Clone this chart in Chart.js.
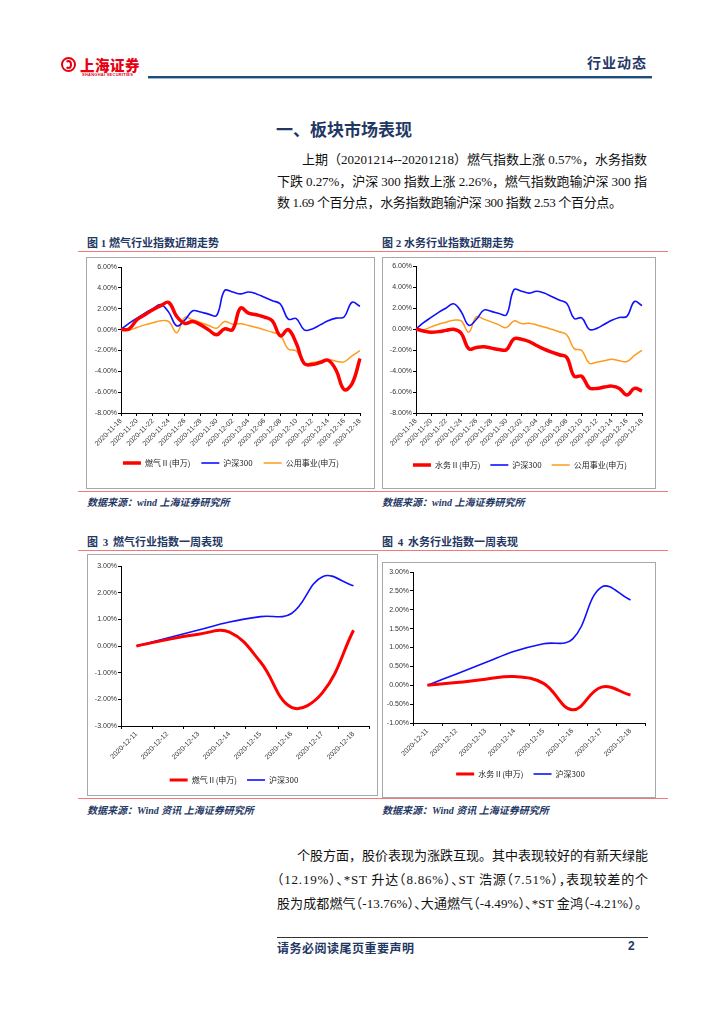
<!DOCTYPE html>
<html>
<head>
<meta charset="utf-8">
<script src="https://cdn.jsdelivr.net/npm/chart.js@4.4.1/dist/chart.umd.min.js"></script>
<style>
body { margin: 0; background: #fff; }
#page { position: relative; width: 724px; height: 1024px; overflow: hidden; background: #fff;
        font-family: "Liberation Serif", "Noto Sans CJK SC", serif; color: #000; }
.abs { position: absolute; white-space: nowrap; }
.navy { color: #1f3864; }
.hd { font-family: "Noto Sans CJK SC", sans-serif; font-weight: 700; }
.cap { font-family: "Liberation Serif", "Noto Sans CJK SC", serif; font-weight: 700; font-size: 11px; color: #1f3864; }
.src { font-family: "Liberation Serif", "Noto Sans CJK SC", serif; font-weight: 700; font-style: italic; font-size: 10px; color: #1f3864; }
.redline { position: absolute; left: 78px; width: 590px; height: 0; border-top: 1px solid #f07a7a; }
.frame { position: absolute; border: 1px solid #a8a8a8; box-sizing: border-box; }
.line { position: absolute; white-space: nowrap; font-size: 13px; line-height: 16px; color: #111; }
.h { font-feature-settings: "halt"; }
canvas { position: absolute; }
</style>
</head>
<body>
<div id="page">
  <!-- header -->
  <div class="abs" style="left:61px;top:57px;width:15px;height:15px;border-radius:50%;border:2px solid #e60012;box-sizing:border-box;"></div>
  <div class="abs" style="left:65px;top:60px;width:7px;height:9px;border-radius:50%;border:2px solid #e60012;border-left-color:transparent;box-sizing:border-box;"></div>
  <div class="abs hd" style="left:80px;top:54px;font-size:14.5px;color:#e60012;letter-spacing:0.5px;font-weight:900;">上海证券</div>
  <div class="abs" style="left:82px;top:72px;font-family:'Liberation Sans';font-size:8px;font-weight:700;color:#e60012;transform:scale(0.5);transform-origin:0 0;letter-spacing:0.5px;">SHANGHAI SECURITIES</div>
  <div class="abs hd navy" style="left:587px;top:52px;font-size:14px;letter-spacing:1px;">行业动态</div>
  <div class="abs" style="left:148px;top:76px;width:504px;height:2px;background:#1f4e79;"></div>
  <div class="abs" style="left:148px;top:78px;width:504px;height:1px;background:#9db3cf;"></div>

  <!-- section title -->
  <div class="abs hd navy" style="left:276px;top:116px;font-size:17px;">一、板块市场表现</div>
  <div class="line" data-w="345" style="left:302px;top:152px;">上期（20201214--20201218）燃气指数上涨 0.57%，水务指数</div>
  <div class="line" data-w="370" style="left:277px;top:174px;">下跌 0.27%，沪深 300 指数上涨 2.26%，燃气指数跑输沪深 300 指</div>
  <div class="line" data-w="345" style="left:277px;top:195px;">数 1.69 个百分点，水务指数跑输沪深 300 指数 2.53 个百分点。</div>

  <!-- figure 1/2 -->
  <div class="abs cap" style="left:87px;top:234px;">图 1 燃气行业指数近期走势</div>
  <div class="abs cap" style="left:382px;top:234px;">图 2 水务行业指数近期走势</div>
  <div class="redline" style="top:251px;"></div>
  <div class="frame" style="left:86px;top:257px;width:289px;height:232px;"></div>
  <div class="frame" style="left:382px;top:257px;width:274px;height:232px;"></div>
  <canvas id="c1" width="286" height="231" style="left:88px;top:257px;"></canvas>
  <canvas id="c2" width="270" height="231" style="left:385px;top:257px;"></canvas>
  <div class="redline" style="top:491px;"></div>
  <div class="abs src" style="left:87px;top:494px;">数据来源：wind 上海证券研究所</div>
  <div class="abs src" style="left:382px;top:494px;">数据来源：wind 上海证券研究所</div>

  <!-- figure 3/4 -->
  <div class="abs cap" style="left:87px;top:533px;word-spacing:2px;">图 3 燃气行业指数一周表现</div>
  <div class="abs cap" style="left:382px;top:533px;word-spacing:2px;">图 4 水务行业指数一周表现</div>
  <div class="redline" style="top:550px;"></div>
  <div class="frame" style="left:87px;top:554px;width:291px;height:242px;"></div>
  <div class="frame" style="left:382px;top:562px;width:274px;height:236px;"></div>
  <canvas id="c3" width="288" height="241" style="left:90px;top:554px;"></canvas>
  <canvas id="c4" width="273" height="235" style="left:384px;top:562px;"></canvas>
  <div class="redline" style="top:798px;"></div>
  <div class="abs src" style="left:87px;top:802px;">数据来源：Wind 资讯 上海证券研究所</div>
  <div class="abs src" style="left:382px;top:802px;">数据来源：Wind 资讯 上海证券研究所</div>

  <!-- body text -->
  <div class="line" data-w="351" style="left:297px;top:848px;">个股方面，股价表现为涨跌互现。其中表现较好的有新天绿能</div>
  <div class="line" data-w="371" style="left:277px;top:872px;"><span class="h">（</span>12.19%<span class="h">）、</span>*ST 升达<span class="h">（</span>8.86%<span class="h">）、</span>ST 浩源<span class="h">（</span>7.51%<span class="h">），</span>表现较差的个</div>
  <div class="line" data-w="371" style="left:277px;top:896px;">股为成都燃气<span class="h">（</span>-13.76%<span class="h">）、</span>大通燃气<span class="h">（</span>-4.49%<span class="h">）、</span>*ST 金鸿<span class="h">（</span>-4.21%<span class="h">）</span>。</div>

  <!-- footer -->
  <div class="abs" style="left:277px;top:937px;width:371px;height:1px;background:#333;"></div>
  <div class="abs hd navy" style="left:277px;top:939px;font-size:12px;letter-spacing:0.5px;">请务必阅读尾页重要声明</div>
  <div class="abs hd navy" style="left:628px;top:939px;font-size:12px;font-family:'Liberation Sans';">2</div>
</div>

<script>
// 近一个月（日度）
const monthDates = ['2020-11-18','2020-11-19','2020-11-20','2020-11-21','2020-11-22','2020-11-23','2020-11-24',
  '2020-11-25','2020-11-26','2020-11-27','2020-11-28','2020-11-29','2020-11-30','2020-12-01','2020-12-02',
  '2020-12-03','2020-12-04','2020-12-05','2020-12-06','2020-12-07','2020-12-08','2020-12-09','2020-12-10',
  '2020-12-11','2020-12-12','2020-12-13','2020-12-14','2020-12-15','2020-12-16','2020-12-17','2020-12-18'];

const gasMonth   = [0.00, 0.06, 0.94, 1.42, 1.90, 2.30, 2.60, 1.26, 0.60, 0.77, 0.45, -0.03, -0.50, 0.06, 0.00,
  2.06, 1.58, 1.42, 1.20, 0.84, -0.60, 0.00, -1.32, -3.26, -3.35, -3.16, -2.94, -3.90, -5.75, -5.19, -2.77];
const waterMonth = [0.00, -0.19, -0.31, -0.25, -0.13, -0.03, -0.40, -1.89, -1.76, -1.70, -1.82, -1.95, -1.98, -0.94, -0.97,
  -1.19, -1.57, -1.92, -2.20, -2.45, -2.70, -4.50, -4.50, -5.60, -5.66, -5.53, -5.44, -5.66, -6.29, -5.66, -5.90];
const hs300Month = [0.00, 0.60, 1.10, 1.58, 2.00, 2.40, 1.65, 0.35, 0.90, 1.80, 1.68, 1.48, 1.35, 3.74, 3.60,
  3.42, 3.60, 3.42, 3.10, 2.77, 2.45, 1.00, 1.05, -0.03, 0.06, 0.45, 0.84, 1.10, 1.20, 2.62, 2.23];
const utilMonth  = [0.00, -0.06, 0.20, 0.45, 0.65, 0.84, 0.77, -0.30, 1.16, 0.94, 0.68, 0.39, 0.13, 0.77, 0.52,
  0.55, 0.39, 0.19, -0.03, -0.26, -0.55, -1.87, -2.05, -3.26, -3.16, -3.03, -2.87, -3.03, -3.10, -2.52, -2.03];

// 一周
const weekDates = ['2020-12-11','2020-12-12','2020-12-13','2020-12-14','2020-12-15','2020-12-16','2020-12-17','2020-12-18'];
const gasWeek   = [0.00, 0.24, 0.44, 0.52, -0.60, -2.30, -1.75, 0.59];
const waterWeek = [0.00, 0.07, 0.16, 0.23, 0.05, -0.65, -0.05, -0.26];
const hs300Week = [0.00, 0.30, 0.60, 0.90, 1.10, 1.22, 2.60, 2.26];

const names = { gas: '燃气Ⅱ(申万)', water: '水务Ⅱ(申万)', hs300: '沪深300', util: '公用事业(申万)' };

const RED = '#ff0000', BLUE = '#1010ff', ORANGE = '#ff9a1a';
const tickFont = { family: 'Liberation Sans', size: 7 };

// 文字两端对齐
function justify() {
  document.querySelectorAll('.line').forEach(el => {
    el.style.letterSpacing = '0px';
    const n = el.textContent.length;
    const w = el.getBoundingClientRect().width;
    el.style.letterSpacing = ((+el.dataset.w - w) / (n - 1)) + 'px';
  });
}
justify();
if (document.fonts) document.fonts.ready.then(justify);

function ds(label, data, color, width) {
  return { label: label, data: data, borderColor: color, backgroundColor: color,
           borderWidth: width, pointRadius: 0, tension: 0.4, fill: false };
}

function draw(id, labels, datasets, o) {
  new Chart(document.getElementById(id), {
    type: 'line',
    data: { labels: labels, datasets: datasets },
    options: {
      responsive: false,
      animation: false,
      layout: { padding: { left: 0, right: 0, top: o.top, bottom: o.bottom } },
      plugins: {
        tooltip: { enabled: false },
        legend: {
          position: 'bottom',
          labels: {
            usePointStyle: true, pointStyle: 'line', pointStyleWidth: 18,
            padding: o.legendPad, color: '#222',
            font: { family: 'Noto Sans CJK SC', size: 8 }
          }
        }
      },
      scales: {
        x: {
          offset: o.offset,
          border: { display: true, color: '#000', width: 1 },
          grid: { display: true, drawOnChartArea: false, drawTicks: true, tickLength: 3, offset: o.offset,
                  color: ctx => (o.every && ctx.index % o.every) ? 'rgba(0,0,0,0)' : '#000' },
          ticks: {
            autoSkip: false, maxRotation: 45, minRotation: 45, padding: 1, color: '#333', font: tickFont,
            callback: function (v, i) { return (o.every && i % o.every) ? '' : labels[i]; }
          },
          afterFit: s => { s.height = o.xh; }
        },
        y: {
          min: o.min, max: o.max,
          border: { display: true, color: '#000', width: 1 },
          grid: { display: true, drawOnChartArea: false, drawTicks: true, tickLength: 3, color: '#000' },
          ticks: { stepSize: o.step, padding: 1, color: '#333', font: tickFont,
                   callback: v => v.toFixed(2) + '%' },
          afterFit: s => { s.width = o.yw; }
        },
        // 右侧留白（不显示）
        blank: {
          position: 'right', display: true, min: 0, max: 1,
          border: { display: false }, grid: { display: false }, ticks: { display: false },
          afterFit: s => { s.width = o.rw; }
        }
      }
    }
  });
}

draw('c1', monthDates, [
  ds(names.gas, gasMonth, RED, 3.5),
  ds(names.hs300, hs300Month, BLUE, 1.6),
  ds(names.util, utilMonth, ORANGE, 1.5)
], { min: -8, max: 6, step: 2, yw: 33, rw: 14, top: 10, bottom: 11, xh: 35, legendPad: 11, offset: false, every: 2 });

draw('c2', monthDates, [
  ds(names.water, waterMonth, RED, 3.5),
  ds(names.hs300, hs300Month, BLUE, 1.6),
  ds(names.util, utilMonth, ORANGE, 1.5)
], { min: -8, max: 6, step: 2, yw: 31, rw: 13, top: 9, bottom: 9, xh: 38, legendPad: 10, offset: false, every: 2 });

draw('c3', weekDates, [
  ds(names.gas, gasWeek, RED, 3),
  ds(names.hs300, hs300Week, BLUE, 1.6)
], { min: -3, max: 3, step: 1, yw: 31, rw: 9, top: 12, bottom: 1, xh: 40, legendPad: 10, offset: true, every: 0 });

draw('c4', weekDates, [
  ds(names.water, waterWeek, RED, 3),
  ds(names.hs300, hs300Week, BLUE, 1.6)
], { min: -1, max: 3, step: 0.5, yw: 29, rw: 12, top: 10, bottom: 9, xh: 37, legendPad: 10, offset: true, every: 0 });
</script>
</body>
</html>
